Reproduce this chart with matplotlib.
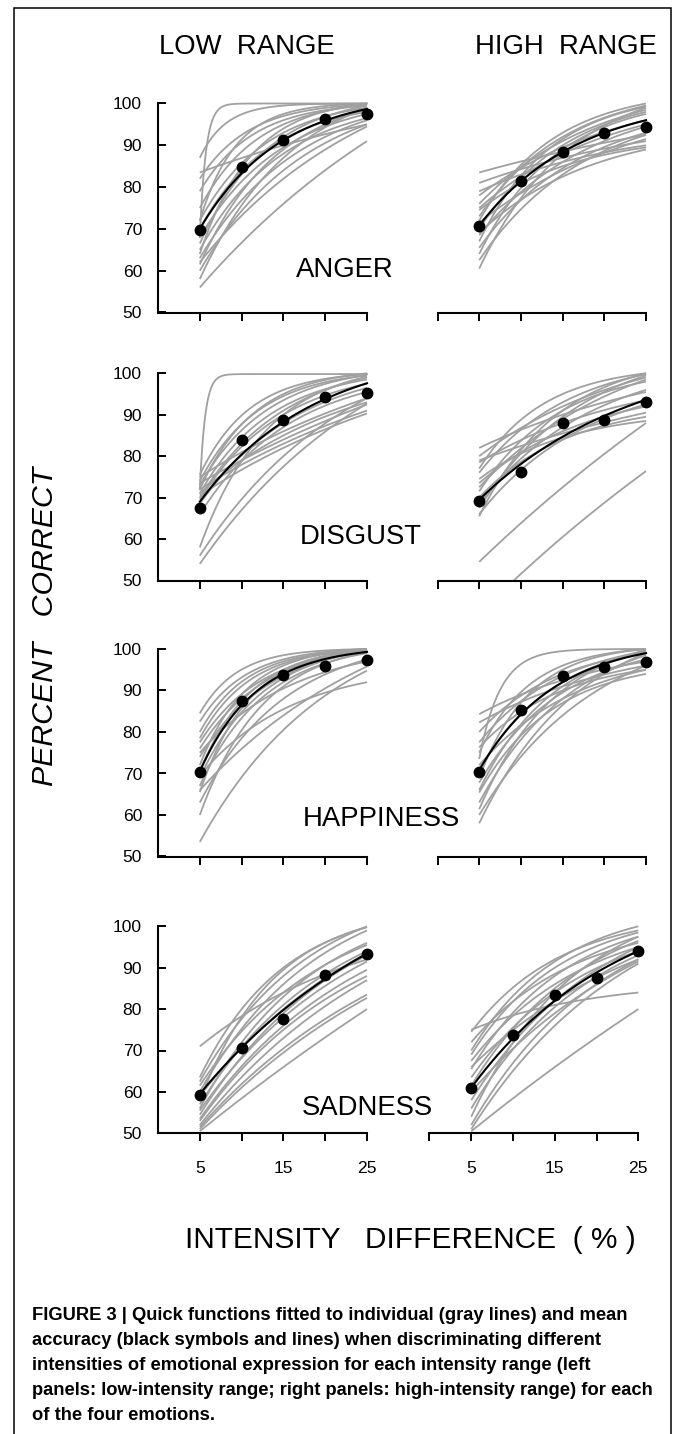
import numpy as np
import matplotlib
matplotlib.use('Agg')
import matplotlib.pyplot as plt
from matplotlib import font_manager
from matplotlib.patches import Rectangle

# ---- data (percent correct) ----
# gray lines: each individual fit read at 5, 15 and 25 % intensity difference
# fast lines: the very steep fits, read at 5, 6 and 7 %
levels = [5, 10, 15, 20, 25]

anger_low_gray = [
    (87, 99.5, 100), (83.5, 90, 95), (82, 97, 99.8), (79, 96, 99.5),
    (75, 95, 99.7), (72, 93, 99), (70, 91.5, 98), (68, 89.5, 97.5),
    (66.5, 92, 99.5), (65, 88, 96.5), (63, 86, 96), (61.5, 89, 98.5),
    (60, 84, 95), (58, 87, 99), (56, 76, 91), (62, 82, 94.5),
    (64, 94, 100), (72, 97.5, 100),
]
anger_low_fast = [(68, 92, 98)]
anger_low_mean = [69.7, 84.8, 91.3, 96.3, 97.4]
anger_low_fit = (70, 91.2, 98.7)

anger_high_gray = [
    (83.5, 88.5, 92.5), (81, 87, 91), (79, 86, 90), (78, 89.5, 96),
    (76, 91, 98.5), (74.5, 85, 89.5), (73, 92, 99.5), (71.5, 84, 91.5),
    (70, 90, 98), (68.5, 86, 94.5), (67, 91.5, 99.2), (65.5, 84.5, 93),
    (64, 89, 97.5), (62.5, 83, 92.5), (60.5, 88, 99), (72, 93, 100),
    (69, 82.5, 89), (75, 88, 95),
]
anger_high_fast = []
anger_high_mean = [70.6, 81.5, 88.4, 93.0, 94.3]
anger_high_fit = (70.8, 88.4, 96.0)

disgust_low_gray = [
    (75.5, 96, 99.8), (74, 94.5, 99.5), (73, 93.5, 99.6), (72, 95, 100),
    (71, 92, 98.5), (70, 91, 99), (69.5, 90, 97.5), (75, 86, 94),
    (73.5, 84, 92.5), (72, 83, 91), (70.5, 82, 90.3), (68.5, 88, 96.5),
    (58, 90, 99.2), (56, 80, 94), (54, 77.5, 92.7), (66, 87, 95.5),
    (71, 85, 93),
]
disgust_low_fast = [(72, 94, 98.6)]
disgust_low_mean = [67.5, 84.0, 88.8, 94.2, 95.3]
disgust_low_fit = (69, 88.3, 97.6)

disgust_high_gray = [
    (82, 90, 95.5), (80, 92, 99), (78.5, 88, 93.5), (76, 93, 99.8),
    (73.5, 86, 92), (71.5, 91, 98), (79, 85.5, 90.5), (67.5, 89.5, 99.5),
    (66, 84, 92.5), (70, 84, 89.5), (68.5, 87, 96), (72.5, 89, 98.5),
    (74.5, 84.5, 88.5), (65.5, 91, 100), (54.5, 72.5, 88), (42, 60.5, 76.4),
    (77, 95, 100),
]
disgust_high_fast = []
disgust_high_mean = [69.3, 76.2, 88.1, 88.7, 93.1]
disgust_high_fit = (69.5, 84.7, 93.6)

happiness_low_gray = [
    (84.5, 98.5, 100), (82.5, 97.5, 100), (80, 97, 99.8), (78.5, 96.5, 99.9),
    (77.5, 95, 99.5), (76, 94.5, 99.8), (74, 93.5, 99.6), (72, 96, 100),
    (70.5, 95, 99.9), (69, 93, 99.5), (67, 92, 99), (65.5, 94.5, 100),
    (60, 91, 99.3), (53.5, 80.5, 94.8), (69.5, 85.5, 92), (66, 84, 95.8),
    (75, 90.5, 97), (63, 88, 97.5),
]
happiness_low_fast = []
happiness_low_mean = [70.3, 87.5, 93.7, 96.0, 97.4]
happiness_low_fit = (70.5, 94, 99.3)

happiness_high_gray = [
    (84.3, 92.5, 97), (82.3, 91, 96), (80, 94, 99), (77.5, 93.5, 99.5),
    (76.3, 90, 95), (75, 96, 100), (73.5, 99.5, 100), (71, 92, 99.5),
    (69, 95, 100), (67.8, 89.5, 97.5), (66, 91, 99.3), (65.4, 87, 94),
    (63, 88, 98.5), (61.4, 90, 99.8), (58, 86.5, 99), (60, 84, 96),
    (72, 88, 95),
]
happiness_high_fast = []
happiness_high_mean = [70.3, 85.4, 93.6, 95.6, 96.9]
happiness_high_fit = (70.8, 92, 99)

sadness_low_gray = [
    (71, 84, 92), (63.5, 90, 99.8), (62.5, 88, 100), (61.5, 84, 95.5),
    (60, 86, 99), (58, 89.5, 99.8), (57, 81, 94), (56, 83, 96),
    (55.5, 78, 91.5), (54.5, 79, 93), (53.5, 76, 89.5), (53, 75, 88),
    (52, 73, 87), (51.5, 70.5, 83.5), (51, 69.5, 82.7), (50.5, 66, 80),
    (59, 80, 93.5),
]
sadness_low_fast = []
sadness_low_mean = [59.3, 70.6, 77.7, 88.2, 93.2]
sadness_low_fit = (59.5, 79.8, 93.4)

sadness_high_gray = [
    (75, 81, 84), (74.5, 92, 99), (72, 88.5, 96), (70, 91.5, 100),
    (67.5, 86, 95), (65.5, 88, 97.5), (63.5, 84, 94), (61.5, 85, 96.5),
    (58, 82, 95), (56, 80.5, 93), (54, 84, 97.5), (52, 78, 92),
    (51, 76, 91), (50.5, 66, 80), (60, 79, 91.5), (66, 82, 92),
    (69, 90, 98.5),
]
sadness_high_fast = []
sadness_high_mean = [61.0, 73.8, 83.5, 87.4, 94.1]
sadness_high_fit = (61, 82, 94)

emotions = ['ANGER', 'DISGUST', 'HAPPINESS', 'SADNESS']

panels = [
    [(anger_low_gray, anger_low_fast, anger_low_mean, anger_low_fit),
     (anger_high_gray, anger_high_fast, anger_high_mean, anger_high_fit)],
    [(disgust_low_gray, disgust_low_fast, disgust_low_mean, disgust_low_fit),
     (disgust_high_gray, disgust_high_fast, disgust_high_mean, disgust_high_fit)],
    [(happiness_low_gray, happiness_low_fast, happiness_low_mean, happiness_low_fit),
     (happiness_high_gray, happiness_high_fast, happiness_high_mean, happiness_high_fit)],
    [(sadness_low_gray, sadness_low_fast, sadness_low_mean, sadness_low_fit),
     (sadness_high_gray, sadness_high_fast, sadness_high_mean, sadness_high_fit)],
]


def sat_curve(x, xs, ys):
    # saturating exponential through three equally spaced readings
    h = xs[1] - xs[0]
    d1 = ys[1] - ys[0]
    d2 = ys[2] - ys[1]
    t = (x - xs[0]) / h
    r = d2 / d1
    if abs(r - 1) < 1e-6:
        return ys[0] + d1 * t
    return ys[0] + d1 * (1 - r ** t) / (1 - r)


# ---- layout (pixel positions in the 673 x 1434 page) ----
W, H = 673, 1434
fig = plt.figure(figsize=(W / 100, H / 100), dpi=100)

row_y = [(103.5, 312.5), (373.3, 580.5), (649, 856.5), (926.3, 1133.3)]   # y of 100 and 50
col_x = [[(158, 367), (437.5, 646)], [(158, 367), (437.5, 646)],
         [(158, 367), (437.5, 646)], [(158, 367), (429.5, 638.3)]]        # x of 0 and 25
label_pos = [(296, 270), (300, 537), (303, 819), (302, 1108)]

main_font = 'Liberation Sans'
names = {f.name for f in font_manager.fontManager.ttflist}
if 'Liberation Sans Narrow' in names:
    cap_font, cap_size = 'Liberation Sans Narrow', 12.6
else:
    cap_font, cap_size = 'Liberation Sans', 13.2

gray = '#a0a0a0'
xs_dense = np.linspace(5, 25, 300)
xs_fast = np.linspace(5, 25, 600)

for r in range(4):
    y100, y50 = row_y[r]
    uy = (y50 - y100) / 50
    for c in range(2):
        x0, x25 = col_x[r][c]
        ux = (x25 - x0) / 25
        left = x0 / W
        width = 25.6 * ux / W
        bottom = 1 - y50 / H
        height = 51 * uy / H
        ax = fig.add_axes([left, bottom, width, height])
        ax.set_xlim(0, 25.6)
        ax.set_ylim(50, 101)
        ax.patch.set_alpha(0)

        g_lines, f_lines, mean, fit = panels[r][c]
        for s, m, e in g_lines:
            ax.plot(xs_dense, sat_curve(xs_dense, (5, 15, 25), (s, m, e)),
                    color=gray, lw=1.3, solid_capstyle='butt')
        for a, b, d in f_lines:
            ax.plot(xs_fast, np.minimum(sat_curve(xs_fast, (5, 6, 7), (a, b, d)), 100),
                    color=gray, lw=1.3)
        ax.plot(xs_dense, sat_curve(xs_dense, (5, 15, 25), fit), color='black', lw=1.5, zorder=4)
        ax.plot(levels, mean, 'o', color='black', ms=7.5, zorder=5, clip_on=False)

        for side in ['top', 'right']:
            ax.spines[side].set_visible(False)
        ax.spines['bottom'].set_bounds(0, 25)
        ax.spines['bottom'].set_linewidth(1.5)
        ax.spines['left'].set_linewidth(1.5)

        if c == 0:
            ax.spines['left'].set_bounds(50, 100)
            ax.set_yticks([50, 60, 70, 80, 90, 100])
            ax.tick_params(axis='y', direction='in', length=6, width=1.4, pad=11.5,
                           labelsize=12.6)
            for lab in ax.get_yticklabels():
                lab.set_fontfamily(main_font)
            ticks = [5, 10, 15, 20, 25]
        else:
            ax.spines['left'].set_visible(False)
            ax.tick_params(axis='y', left=False, labelleft=False)
            ticks = [0, 5, 10, 15, 20, 25]

        ax.set_xticks(ticks)
        ax.tick_params(axis='x', direction='out', length=6, width=1.4, pad=14, labelsize=12.6)
        if r == 3:
            ax.set_xticklabels([str(t) if t in (5, 15, 25) else '' for t in ticks],
                               fontfamily=main_font)
        else:
            ax.tick_params(axis='x', labelbottom=False)

    lx, ly = label_pos[r]
    fig.text(lx / W, 1 - ly / H, emotions[r], ha='left', va='center',
             fontsize=19.8, family=main_font)

# headers and axis titles
fig.text(247 / W, 1 - 47 / H, 'LOW  RANGE', ha='center', va='center', fontsize=19.8, family=main_font)
fig.text(566 / W, 1 - 47 / H, 'HIGH  RANGE', ha='center', va='center', fontsize=19.8, family=main_font)
fig.text(45 / W, 1 - 626 / H, 'PERCENT   CORRECT', rotation=90, ha='center', va='center',
         fontsize=21.8, style='italic', family=main_font)
fig.text(410.5 / W, 1 - 1240 / H, 'INTENSITY   DIFFERENCE  ( % )', ha='center', va='center',
         fontsize=21.5, family=main_font)

caption = [
    'FIGURE 3 | Quick functions fitted to individual (gray lines) and mean',
    'accuracy (black symbols and lines) when discriminating different',
    'intensities of emotional expression for each intensity range (left',
    'panels: low-intensity range; right panels: high-intensity range) for each',
    'of the four emotions.',
]
for i, line in enumerate(caption):
    fig.text(32 / W, 1 - (1320 + 25 * i) / H, line, ha='left', va='baseline',
             fontsize=cap_size, fontweight='bold', family=cap_font)

# page frame
fig.add_artist(Rectangle((14 / W, -0.01), (671 - 14) / W, 1.01 - 8 / H,
                         transform=fig.transFigure, fill=False, lw=1.1, edgecolor='black'))

fig.savefig('out.png', dpi=100)
